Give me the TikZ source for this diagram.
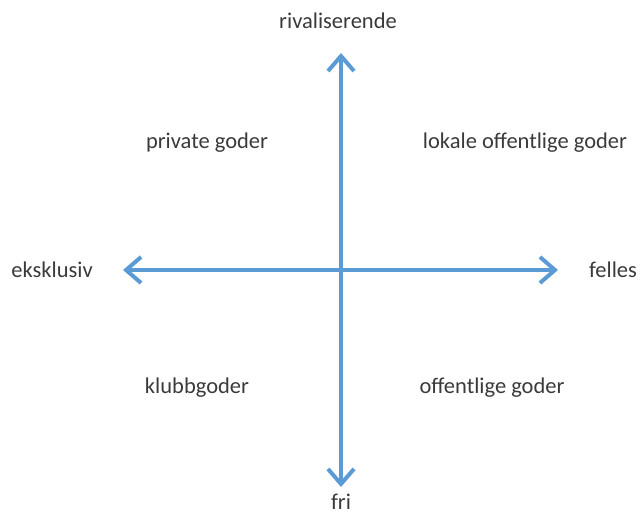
\documentclass[tikz,border=0pt]{standalone}
\usepackage{fontspec}
\setmainfont{Carlito}
\usetikzlibrary{arrows.meta}
\definecolor{axisblue}{HTML}{5B9BD5}
\definecolor{txt}{HTML}{3A3A3A}
\tikzset{
  axis/.style={draw=axisblue, line width=4pt, -{Straight Barb[length=15pt, width=26pt, line width=4pt]}},
  lbl/.style={text=txt, font=\fontsize{22.5}{26}\selectfont, inner sep=0pt}
}
\begin{document}
\begin{tikzpicture}[x=1pt, y=1pt]
\useasboundingbox (0,0) rectangle (644,516);
\coordinate (c) at (341,246);
\coordinate (top) at (341,463);
\coordinate (bot) at (341,29);
\coordinate (left) at (123,246);
\coordinate (right) at (558,246);
\draw[axis] (c) -- (top);
\draw[axis] (c) -- (bot);
\draw[axis] (c) -- (left);
\draw[axis] (c) -- (right);
\node[lbl] (riv) at (338,495) {rivaliserende};
\node[lbl] (fri) at (341,14) {fri};
\node[lbl] (eks) at (52,246) {eksklusiv};
\node[lbl] (fel) at (613,246) {felles};
\node[lbl] (priv) at (207,373) {private goder};
\node[lbl] (lok) at (525,373) {lokale offentlige goder};
\node[lbl] (klubb) at (197,128) {klubbgoder};
\node[lbl] (off) at (492,128) {offentlige goder};
\end{tikzpicture}
\end{document}
